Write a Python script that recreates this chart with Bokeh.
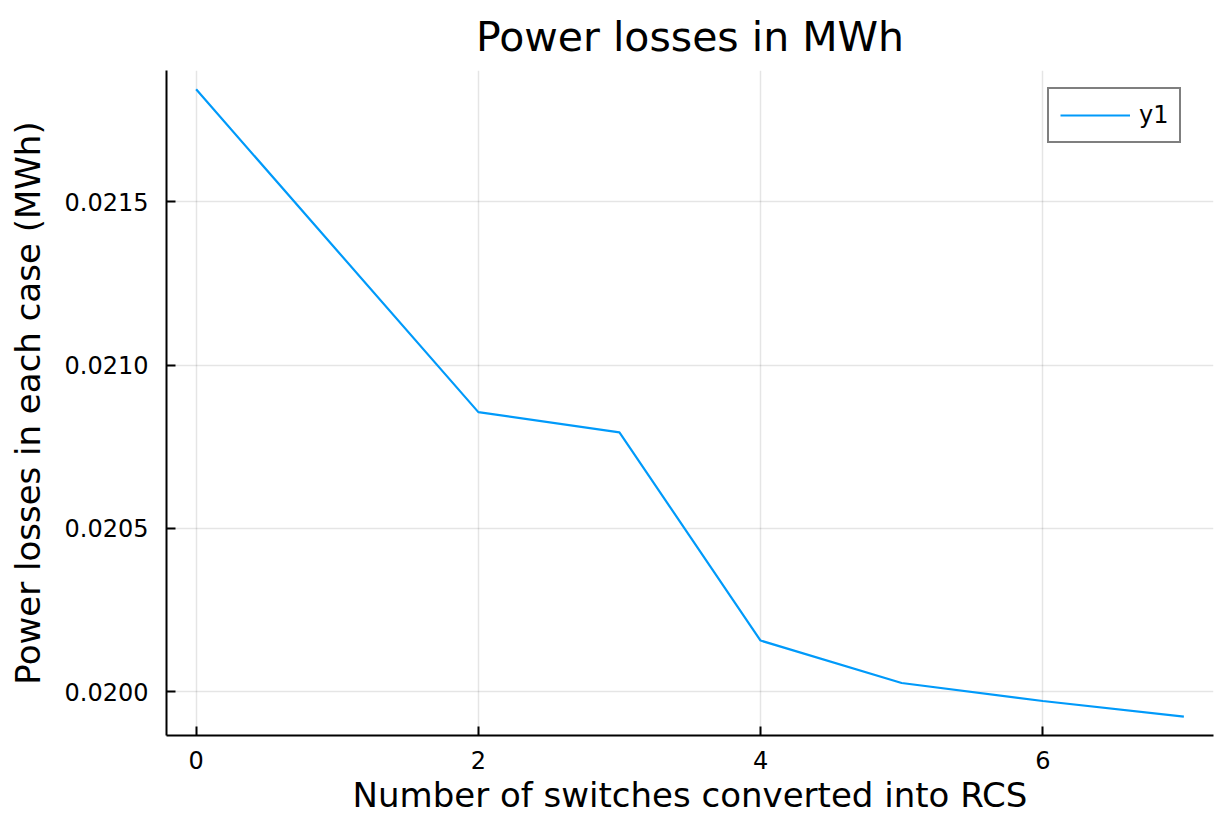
from bokeh.plotting import figure
from bokeh.models import FixedTicker, PrintfTickFormatter, Range1d, Legend, LegendItem
from bokeh.embed import file_html
from bokeh.resources import INLINE

# Data
switches = [0, 1, 2, 3, 4, 5, 6, 7]
losses = [0.021844, 0.021350, 0.020856, 0.020794, 0.020157, 0.020027, 0.019972, 0.019924]
series_name = "y1"
x_ticks = [0, 2, 4, 6]
y_ticks = [0.0200, 0.0205, 0.0210, 0.0215]

title_text = "Power losses in MWh"
x_label = "Number of switches converted into RCS"
y_label = "Power losses in each case (MWh)"

FONT = "DejaVu Sans"

xmin, xmax = min(switches), max(switches)
ymin, ymax = min(losses), max(losses)
xpad = 0.03 * (xmax - xmin)
ypad = 0.03 * (ymax - ymin)

p = figure(
    width=1216, height=817,
    output_backend="svg", toolbar_location=None,
    x_range=Range1d(xmin - xpad, xmax + xpad),
    y_range=Range1d(ymin - ypad, ymax + ypad),
    min_border_left=166, min_border_right=3,
    min_border_top=70, min_border_bottom=80,
)
p.outline_line_color = None
p.background_fill_color = "white"
p.border_fill_color = "white"

# Title
p.title.text = title_text
p.title.align = "center"
p.title.text_font = FONT
p.title.text_font_size = "41px"
p.title.text_font_style = "normal"
p.title.text_color = "black"
p.title.standoff = 19

# Axes
for ax in (p.xaxis[0], p.yaxis[0]):
    ax.axis_line_color = "black"
    ax.axis_line_width = 2
    ax.major_tick_line_color = "black"
    ax.major_tick_line_width = 2
    ax.major_tick_in = 9
    ax.major_tick_out = 0
    ax.minor_tick_line_color = None
    ax.major_label_text_font = FONT
    ax.major_label_text_font_size = "24px"
    ax.major_label_text_color = "black"
    ax.axis_label_text_font = FONT
    ax.axis_label_text_font_size = "34px"
    ax.axis_label_text_font_style = "normal"
    ax.axis_label_text_color = "black"

p.xaxis[0].ticker = FixedTicker(ticks=x_ticks)
p.yaxis[0].ticker = FixedTicker(ticks=y_ticks)
p.yaxis[0].formatter = PrintfTickFormatter(format="%.4f")
p.xaxis[0].axis_label = x_label
p.xaxis[0].major_label_standoff = 15
p.xaxis[0].axis_label_standoff = 3
p.yaxis[0].axis_label = y_label
p.yaxis[0].major_label_standoff = 18
p.yaxis[0].axis_label_standoff = 14

# Grid
for g in (p.xgrid[0], p.ygrid[0]):
    g.grid_line_color = "black"
    g.grid_line_alpha = 0.1
    g.grid_line_width = 1.5

line = p.line(switches, losses, line_color="#009AFA", line_width=2.2)

legend = Legend(items=[LegendItem(label=series_name, renderers=[line])])
legend.location = (881, 592)
legend.border_line_color = "black"
legend.border_line_width = 2
legend.background_fill_color = "white"
legend.padding = 11
legend.margin = 0
legend.glyph_width = 70
legend.glyph_height = 30
legend.label_standoff = 9
legend.label_text_font = FONT
legend.label_text_font_size = "24px"
legend.label_text_color = "black"
p.add_layout(legend, "center")

open("out.html", "w").write(file_html(p, INLINE))
